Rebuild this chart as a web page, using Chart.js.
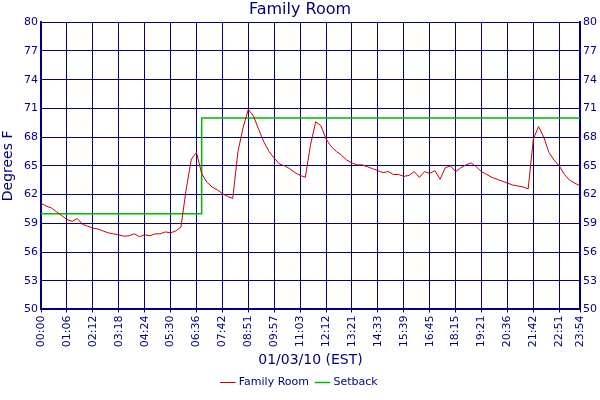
<!DOCTYPE html>
<html lang="en">
<head>
  <meta charset="UTF-8" />
  <title>Family Room</title>
  <script src="https://cdn.jsdelivr.net/npm/chart.js"></script>
  <style>
    html, body { margin: 0; padding: 0; background: #fff; }
  </style>
</head>
<body>
  <canvas id="chart" width="600" height="400"></canvas>
  <script>
    // tick labels every 10 units; last label sits at the end of the data
    const tickLabels = ['00:00','01:06','02:12','03:18','04:24','05:30','06:36','07:42','08:51','09:57',
      '11:03','12:12','13:21','14:33','15:39','16:45','18:15','19:21','20:36','21:42','22:51','23:54'];
    const tickPositions = [0,10,20,30,40,50,60,70,80,90,100,110,120,130,140,150,160,170,180,190,200,208];
    const xStep = 2;

    const familyRoom = [
      61.1,60.8,60.6,60.2,59.8,59.4,59.2,59.5,58.9,58.7,
      58.5,58.4,58.2,58.0,57.9,57.8,57.65,57.7,57.9,57.6,
      57.8,57.7,57.9,57.9,58.1,58.0,58.2,58.6,62.5,65.7,
      66.4,64.2,63.3,62.8,62.5,62.1,61.8,61.6,66.5,69.0,
      70.9,70.2,68.8,67.5,66.5,65.8,65.2,65.0,64.7,64.3,
      64.0,63.8,67.2,69.6,69.2,67.8,67.0,66.5,66.1,65.6,
      65.3,65.1,65.1,64.9,64.7,64.5,64.3,64.4,64.1,64.1,
      63.9,64.0,64.4,63.8,64.4,64.2,64.5,63.6,64.8,65.0,
      64.4,64.8,65.1,65.3,64.9,64.4,64.1,63.8,63.6,63.4,
      63.2,63.0,62.9,62.8,62.6,67.8,69.1,68.0,66.4,65.6,
      65.0,64.1,63.5,63.2,62.9
    ];
    const setback = [
      60,60,60,60,60,60,60,60,60,60,
      60,60,60,60,60,60,60,60,60,60,
      60,60,60,60,60,60,60,60,60,60,
      60,60,70,70,70,70,70,70,70,70,
      70,70,70,70,70,70,70,70,70,70,
      70,70,70,70,70,70,70,70,70,70,
      70,70,70,70,70,70,70,70,70,70,
      70,70,70,70,70,70,70,70,70,70,
      70,70,70,70,70,70,70,70,70,70,
      70,70,70,70,70,70,70,70,70,70,
      70,70,70,70,70
    ];

    const navy = '#000080';
    const toPoints = arr => arr.map((v, i) => ({ x: i * xStep, y: v }));
    const font = { family: 'DejaVu Sans', size: 11 };

    const yAxis = (pos, width) => ({
      position: pos,
      min: 50, max: 80,
      ticks: { stepSize: 3, color: navy, font: font, padding: 3 },
      grid: { color: navy, lineWidth: 1, drawTicks: false, drawOnChartArea: pos === 'left' },
      border: { color: navy, width: 2 },
      afterFit: s => { s.width = width; }
    });

    new Chart(document.getElementById('chart'), {
      type: 'line',
      data: {
        datasets: [
          { label: 'Family Room', data: toPoints(familyRoom), borderColor: '#cc0000',
            backgroundColor: '#cc0000', borderWidth: 1, pointRadius: 0, tension: 0 },
          { label: 'Setback', data: toPoints(setback), borderColor: '#00bb00',
            backgroundColor: '#00bb00', borderWidth: 1.5, pointRadius: 0, stepped: 'after' }
        ]
      },
      options: {
        responsive: false,
        animation: false,
        layout: { padding: { top: 0, right: 0, bottom: 2, left: 0 } },
        plugins: {
          title: { display: true, text: 'Family Room', color: navy,
            font: { family: 'DejaVu Sans', size: 16, weight: 'normal' }, padding: { top: 0, bottom: 3 } },
          legend: { position: 'bottom',
            labels: { color: navy, font: font, usePointStyle: true, pointStyle: 'line', boxWidth: 16, padding: 8 } },
          tooltip: { enabled: false }
        },
        scales: {
          x: {
            type: 'linear', min: 0, max: 208,
            afterBuildTicks: s => { s.ticks = tickPositions.map(v => ({ value: v })); },
            ticks: { color: navy, font: font, minRotation: 90, maxRotation: 90, autoSkip: false,
              callback: (v) => tickLabels[tickPositions.indexOf(v)] },
            grid: { color: navy, lineWidth: 1, drawTicks: true, tickLength: 3 },
            border: { color: navy, width: 2 },
            title: { display: true, text: '01/03/10 (EST)', color: navy,
              font: { family: 'DejaVu Sans', size: 14 }, padding: { top: 2, bottom: 0 } }
          },
          y: Object.assign(yAxis('left', 41), {
            title: { display: true, text: 'Degrees F', color: navy,
              font: { family: 'DejaVu Sans', size: 14 }, padding: 0 } }),
          y2: yAxis('right', 20)
        }
      }
    });
  </script>
</body>
</html>
